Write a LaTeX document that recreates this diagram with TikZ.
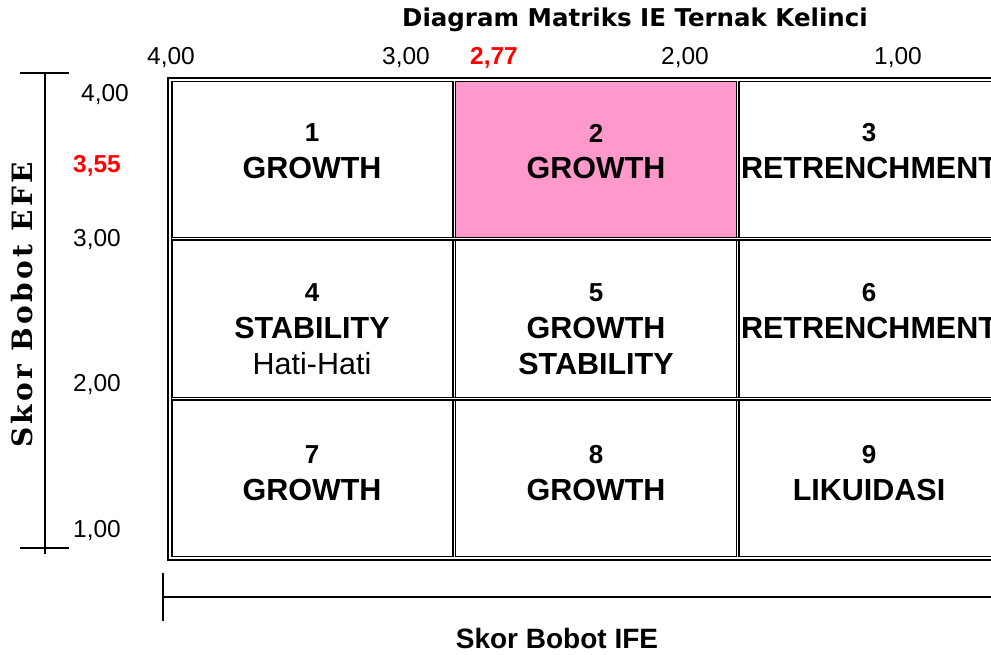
\documentclass[tikz,border=0pt]{standalone}
\usepackage{fontspec}
\setmainfont{Liberation Sans}
\newfontfamily\titlefont{DejaVu Sans}
\newfontfamily\efefont{DejaVu Serif}[LetterSpace=12]
\definecolor{cellpink}{RGB}{255,153,204}
\begin{document}
\begin{tikzpicture}[x=1pt, y=-1pt, line join=miter,
    num/.style={font=\fontsize{26}{26}\selectfont\bfseries},
    lbl/.style={font=\fontsize{30.5}{30.5}\selectfont\bfseries},
    tck/.style={font=\fontsize{24.5}{24.5}\selectfont},
    redtck/.style={font=\fontsize{24.5}{24.5}\selectfont\bfseries, text=red},
    gridline/.style={double, double distance=1pt, line width=1.5pt},
    axis/.style={line width=1.5pt}]
    \useasboundingbox (0,0) rectangle (991,654);
    \clip (0,0) rectangle (991,654);
    \node[font=\titlefont\fontsize{24.5}{24.5}\selectfont\bfseries] (title) at (635,20) {Diagram Matriks IE Ternak Kelinci};
    % skala IFE (atas) dan EFE (kiri)
    \foreach \x/\v in {171/{4,00}, 406/{3,00}, 685/{2,00}, 898/{1,00}}
        \node[tck] (ife\x) at (\x,58) {\v};
    \foreach \x/\y/\v in {105/95/{4,00}, 97/240/{3,00}, 97/385/{2,00}, 97/531/{1,00}}
        \node[tck] (efe\y) at (\x,\y) {\v};
    \node[redtck] (ifeskor) at (494,58) {2,77};
    \node[redtck] (efeskor) at (97,166) {3,55};
    % matriks
    \fill[cellpink] (455,81) rectangle (737,237);
    \draw[line width=2pt] (168,78) rectangle (1040,560);
    \draw[line width=1.2pt] (172,81.5) rectangle (1036,556.5);
    \draw[gridline] (454,81) -- (454,557) (737.5,81) -- (737.5,557);
    \draw[gridline] (172,238.5) -- (1036,238.5) (172,398.5) -- (1036,398.5);
    \foreach \n/\x/\y/\nm in {1/312/133/GROWTH, 2/596/133/GROWTH, 3/869/133/RETRENCHMENT,
        4/312/293/STABILITY, 5/596/293/GROWTH, 6/869/293/RETRENCHMENT,
        7/312/455/GROWTH, 8/596/455/GROWTH, 9/869/455/LIKUIDASI}
    {
        \node[num] (n\n) at (\x,\y) {\n};
        \node[lbl] (m\n) at (\x,\y+35) {\nm};
    }
    \node[font=\fontsize{30.5}{30.5}\selectfont] (h4) at (312,364) {Hati-Hati};
    \node[lbl] (s5) at (596,364) {STABILITY};
    % sumbu
    \coordinate (efeatas) at (45,73);
    \coordinate (efebawah) at (45,554);
    \draw[axis] (efeatas) -- (efebawah);
    \draw[axis] (20,73) -- (69,73) (20,548) -- (69,548);
    \coordinate (ifekiri) at (163,597);
    \coordinate (ifekanan) at (991,597);
    \draw[axis] (ifekiri) -- (ifekanan);
    \draw[axis] (163,573) -- (163,621);
    \node[font=\fontsize{28}{28}\selectfont\bfseries] (ifelbl) at (557,638) {Skor Bobot IFE};
    \node[font=\efefont\fontsize{28}{28}\selectfont\bfseries, rotate=90] (efelbl) at (22,305) {Skor Bobot EFE};
\end{tikzpicture}
\end{document}
